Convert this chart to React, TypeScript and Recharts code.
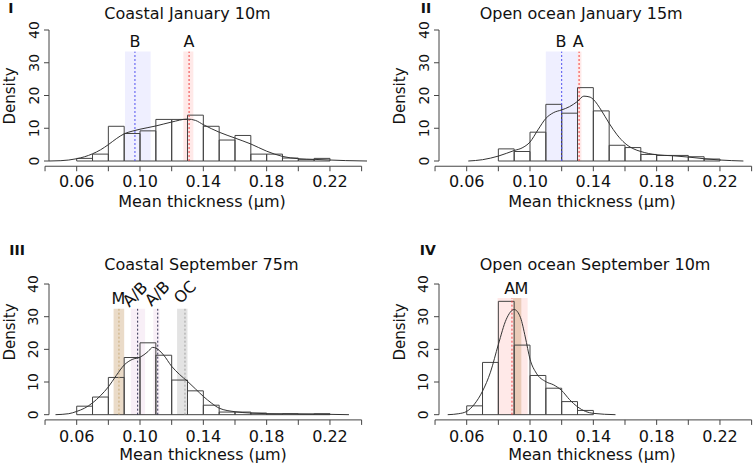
import React from 'react';
import { ComposedChart, Line, XAxis, YAxis, ReferenceArea, ReferenceLine, ReferenceDot } from 'recharts';

// histogram bins (left edges, width 0.01) and densities
const binsI = [0.06, 0.07, 0.08, 0.09, 0.10, 0.11, 0.12, 0.13, 0.14, 0.15, 0.16, 0.17, 0.18, 0.19, 0.20, 0.21];
const histI = [0.8, 2.1, 10.6, 8.4, 9.2, 12.7, 12.7, 14.0, 10.6, 6.4, 7.8, 2.1, 2.1, 0.9, 0.4, 0.8];
const binsII = [0.08, 0.09, 0.10, 0.11, 0.12, 0.13, 0.14, 0.15, 0.16, 0.17, 0.18, 0.19, 0.20, 0.21];
const histII = [3.7, 2.9, 8.8, 17.3, 14.6, 22.4, 15.3, 4.8, 4.1, 2.0, 1.7, 1.7, 1.3, 0.6];
const binsIII = [0.06, 0.07, 0.08, 0.09, 0.10, 0.11, 0.12, 0.13, 0.14, 0.15, 0.16, 0.17, 0.18, 0.19, 0.20, 0.21];
const histIII = [2.6, 5.4, 11.4, 17.5, 22.0, 18.2, 10.6, 7.3, 2.9, 0.8, 0.8, 0.5, 0.2, 0.3, 0.2, 0.3];
const binsIV = [0.06, 0.07, 0.08, 0.09, 0.10, 0.11, 0.12, 0.13];
const histIV = [2.7, 16.0, 34.7, 21.3, 12.0, 8.1, 4.0, 1.3];
const binWidth = 0.01;

// kernel density curves
const kdeXI = [0.0425, 0.05, 0.055, 0.06, 0.065, 0.07, 0.075, 0.08, 0.085, 0.09, 0.095, 0.10, 0.11, 0.12, 0.13, 0.135, 0.14, 0.15, 0.16, 0.17, 0.18, 0.19, 0.20, 0.21, 0.22, 0.23, 0.2434];
const kdeYI = [0, 0.1, 0.3, 0.7, 1.3, 2.2, 3.4, 5.0, 6.8, 8.3, 9.1, 9.7, 10.7, 11.9, 12.8, 12.4, 11.1, 8.8, 7.0, 5.2, 3.0, 1.4, 0.7, 0.5, 0.3, 0.12, 0];
const kdeXII = [0.061, 0.07, 0.08, 0.09, 0.095, 0.10, 0.105, 0.11, 0.115, 0.12, 0.125, 0.13, 0.134, 0.138, 0.14, 0.145, 0.15, 0.155, 0.16, 0.165, 0.17, 0.18, 0.19, 0.20, 0.21, 0.22, 0.2348];
const kdeYII = [0, 0.4, 1.5, 3.2, 4.0, 5.8, 9.5, 13.0, 14.8, 15.6, 16.6, 18.2, 19.8, 19.5, 18.8, 15.5, 11.5, 8.0, 5.4, 3.8, 2.9, 1.9, 1.6, 1.2, 0.7, 0.3, 0];
const kdeXIII = [0.0466, 0.055, 0.06, 0.065, 0.07, 0.075, 0.08, 0.085, 0.09, 0.095, 0.10, 0.105, 0.108, 0.11, 0.115, 0.12, 0.125, 0.13, 0.135, 0.14, 0.145, 0.15, 0.16, 0.17, 0.18, 0.20, 0.22, 0.232];
const kdeYIII = [0, 0.3, 1.0, 2.0, 3.6, 5.8, 8.5, 12.0, 15.2, 16.9, 17.6, 19.3, 20.6, 20.4, 18.2, 14.8, 12.3, 10.2, 7.9, 5.6, 3.6, 2.0, 0.9, 0.5, 0.3, 0.2, 0.1, 0];
const kdeXIV = [0.048, 0.055, 0.06, 0.065, 0.07, 0.075, 0.08, 0.085, 0.09, 0.094, 0.097, 0.10, 0.104, 0.11, 0.115, 0.12, 0.125, 0.13, 0.135, 0.14, 0.154];
const kdeYIV = [0, 0.3, 1.0, 3.3, 7.2, 13.0, 21.5, 29.2, 32.2, 29.7, 23.8, 17.0, 12.7, 10.1, 9.1, 7.4, 4.6, 2.4, 1.0, 0.4, 0];

// shaded ranges and their marker lines (kind picks the colour)
const bandsI = [
  { kind: 'B', from: 0.0905, to: 0.1067, mark: 0.0968 },
  { kind: 'A', from: 0.1274, to: 0.1337, mark: 0.131 },
];
const bandsII = [
  { kind: 'B', from: 0.11, to: 0.13, mark: 0.12 },
  { kind: 'A', from: 0.1300, to: 0.1325, mark: 0.131 },
];
const bandsIII = [
  { kind: 'M', from: 0.0833, to: 0.0900, mark: 0.0867 },
  { kind: 'AB', from: 0.0942, to: 0.1032, mark: 0.0985 },
  { kind: 'AB', from: 0.1084, to: 0.1124, mark: 0.1112 },
  { kind: 'OC', from: 0.1234, to: 0.1300, mark: 0.1284 },
];
const bandsIV = [
  { kind: 'A', from: 0.0795, to: 0.0985, mark: 0.0886 },
  { kind: 'M', from: 0.0893, to: 0.0945, mark: null },
];

const labelsI = [{ text: 'B', x: 0.0968, y: 34.7, tilt: false }, { text: 'A', x: 0.131, y: 34.7, tilt: false }];
const labelsII = [{ text: 'B', x: 0.1195, y: 34.7, tilt: false }, { text: 'A', x: 0.1305, y: 34.7, tilt: false }];
const labelsIII = [
  { text: 'M', x: 0.0863, y: 33.9, tilt: false },
  { text: 'A/B', x: 0.0968, y: 36.9, tilt: true },
  { text: 'A/B', x: 0.1109, y: 37.1, tilt: true },
  { text: 'OC', x: 0.1284, y: 37.5, tilt: true },
];
const labelsIV = [{ text: 'A', x: 0.0872, y: 37.0, tilt: false }, { text: 'M', x: 0.0945, y: 37.0, tilt: false }];

const xTicks = [0.04, 0.06, 0.08, 0.10, 0.12, 0.14, 0.16, 0.18, 0.20, 0.22, 0.24];
const xTickLabels = ['0.06', '0.10', '0.14', '0.18', '0.22'];
const yTicks = [0, 10, 20, 30, 40];

const FONT = '"DejaVu Sans", Verdana, sans-serif';
const CHART_W = 770;
const CHART_H = 466;
const X_AXIS_H = 30;
const X_DOMAIN = [0.0425, 0.2434];
const Y_DOMAIN = [-1.6, 41.6];

const kindStyle = {
  A: { fill: '#ff2a1a', opacity: 0.1, line: '#f04040' },
  B: { fill: '#3030ff', opacity: 0.08, line: '#5050f0' },
  M: { fill: '#b8874a', opacity: 0.3, line: '#c9a978' },
  AB: { fill: '#c878c0', opacity: 0.12, line: '#303050' },
  OC: { fill: '#909090', opacity: 0.25, line: '#a0a0a0' },
};

const panels = [
  {
    id: 'I', title: 'Coastal January 10m', bins: binsI, hist: histI, kdeX: kdeXI, kdeY: kdeYI,
    bands: bandsI, labels: labelsI, bandTop: 33.4,
    left: 0, plotTop: 24.76, plotBottom: 166.24, tickMargin: 4,
    tagX: 8.3, tagY: 13.3, titleX: 104.3, titleY: 19, axisTitleX: 202, axisTitleY: 206.7, densityX: 14.5, densityY: 96,
  },
  {
    id: 'II', title: 'Open ocean January 15m', bins: binsII, hist: histII, kdeX: kdeXII, kdeY: kdeYII,
    bands: bandsII, labels: labelsII, bandTop: 33.4,
    left: 390, plotTop: 24.76, plotBottom: 166.24, tickMargin: 4,
    tagX: 420.7, tagY: 13.3, titleX: 479.7, titleY: 19, axisTitleX: 592, axisTitleY: 206.7, densityX: 404.5, densityY: 96,
  },
  {
    id: 'III', title: 'Coastal September 75m', bins: binsIII, hist: histIII, kdeX: kdeXIII, kdeY: kdeYIII,
    bands: bandsIII, labels: labelsIII, bandTop: 32.4,
    left: 0, plotTop: 278.8, plotBottom: 419.9, tickMargin: 5.5,
    tagX: 9.3, tagY: 254.7, titleX: 104.3, titleY: 269.7, axisTitleX: 203, axisTitleY: 460, densityX: 14.5, densityY: 332,
  },
  {
    id: 'IV', title: 'Open ocean September 10m', bins: binsIV, hist: histIV, kdeX: kdeXIV, kdeY: kdeYIV,
    bands: bandsIV, labels: labelsIV, bandTop: 35.7,
    left: 390, plotTop: 278.8, plotBottom: 419.9, tickMargin: 5.5,
    tagX: 419.7, tagY: 254.7, titleX: 479.7, titleY: 269.7, axisTitleX: 592, axisTitleY: 460, densityX: 404.5, densityY: 332,
  },
];

const fmtX = (v: number) => (xTickLabels.includes(v.toFixed(2)) ? v.toFixed(2) : '');

const YTick = (props: any) => {
  const { x, y, payload } = props;
  return (
    <text x={x} y={y} transform={`rotate(-90 ${x} ${y})`} textAnchor="middle" fontSize={14} fontFamily={FONT} fill="#111">
      {payload.value}
    </text>
  );
};

const Panel = ({ p }: { p: any }) => {
  const kde = p.kdeX.map((x: number, i: number) => ({ x, y: p.kdeY[i] }));
  return (
    <div style={{ position: 'absolute', left: 0, top: 0 }}>
      <ComposedChart
        width={CHART_W}
        height={CHART_H}
        data={kde}
        margin={{ top: p.plotTop, bottom: CHART_H - p.plotBottom - X_AXIS_H, left: p.left, right: CHART_W - p.left - 367 }}
      >
        <XAxis
          dataKey="x"
          type="number"
          domain={X_DOMAIN}
          allowDataOverflow
          ticks={xTicks}
          interval={0}
          tickFormatter={fmtX}
          axisLine={false}
          tickSize={5}
          tickMargin={p.tickMargin}
          height={X_AXIS_H}
          tick={{ fontSize: 16, fill: '#111', fontFamily: FONT }}
          tickLine={{ stroke: '#444' }}
        />
        <YAxis
          type="number"
          domain={Y_DOMAIN}
          allowDataOverflow
          ticks={yTicks}
          interval={0}
          width={49}
          axisLine={false}
          tickSize={5}
          tickMargin={5.5}
          tick={(props: any) => <YTick {...props} />}
          tickLine={{ stroke: '#444' }}
        />
        {p.bands.map((b: any, i: number) => (
          <ReferenceArea
            key={`band-${i}`}
            x1={b.from}
            x2={b.to}
            y1={0}
            y2={p.bandTop}
            fill={kindStyle[b.kind].fill}
            fillOpacity={kindStyle[b.kind].opacity}
            stroke="none"
          />
        ))}
        {p.bins.map((x0: number, i: number) => (
          <ReferenceArea
            key={`bin-${i}`}
            x1={x0}
            x2={x0 + binWidth}
            y1={0}
            y2={p.hist[i]}
            fill="none"
            stroke="#444"
            strokeWidth={1}
          />
        ))}
        {p.bands.filter((b: any) => b.mark !== null).map((b: any, i: number) => (
          <ReferenceLine
            key={`mark-${i}`}
            segment={[{ x: b.mark, y: 0 }, { x: b.mark, y: p.bandTop }]}
            stroke={kindStyle[b.kind].line}
            strokeDasharray="2 2"
            strokeWidth={1}
          />
        ))}
        <Line dataKey="y" type="monotone" stroke="#333" strokeWidth={1} dot={false} isAnimationActive={false} />
        <ReferenceLine segment={[{ x: 0.04, y: -1.6 }, { x: 0.24, y: -1.6 }]} stroke="#444" ifOverflow="visible" />
        <ReferenceLine segment={[{ x: 0.0425, y: 0 }, { x: 0.0425, y: 40 }]} stroke="#444" ifOverflow="visible" />
        {p.labels.map((l: any, i: number) => (
          <ReferenceDot
            key={`lab-${i}`}
            x={l.x}
            y={l.y}
            r={1}
            ifOverflow="visible"
            shape={(s: any) =>
              l.tilt ? (
                <text x={s.cx} y={s.cy} transform={`rotate(-45 ${s.cx} ${s.cy})`} textAnchor="middle" dominantBaseline="central" fontSize={16} fontFamily={FONT} fill="#111">
                  {l.text}
                </text>
              ) : (
                <text x={s.cx} y={s.cy} textAnchor="middle" fontSize={16} fontFamily={FONT} fill="#111">
                  {l.text}
                </text>
              )
            }
          />
        ))}
      </ComposedChart>
    </div>
  );
};

export default function App() {
  return (
    <div style={{ position: 'absolute', left: 0, top: 0, width: 755, height: 466, overflow: 'hidden', background: '#fff' }}>
      {panels.map((p) => (
        <Panel key={p.id} p={p} />
      ))}
      <svg width={755} height={466} style={{ position: 'absolute', left: 0, top: 0, pointerEvents: 'none' }}>
        {panels.map((p) => (
          <g key={`txt-${p.id}`} fontFamily={FONT} fill="#111">
            <text x={p.tagX} y={p.tagY} fontSize={14} fontWeight="bold">{p.id}</text>
            <text x={p.titleX} y={p.titleY} fontSize={16}>{p.title}</text>
            <text x={p.axisTitleX} y={p.axisTitleY} fontSize={16} textAnchor="middle">Mean thickness (µm)</text>
            <text x={p.densityX} y={p.densityY} fontSize={15} textAnchor="middle" transform={`rotate(-90 ${p.densityX} ${p.densityY})`}>Density</text>
          </g>
        ))}
      </svg>
    </div>
  );
}
